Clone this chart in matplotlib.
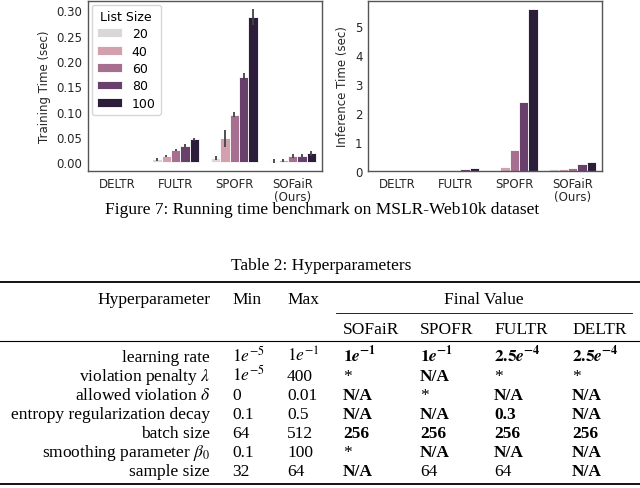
import matplotlib
matplotlib.use("Agg")
import matplotlib.pyplot as plt
from matplotlib.lines import Line2D
import numpy as np

# ---- chart data ----
categories = ["DELTR", "FULTR", "SPOFR", "SOFaiR\n(Ours)"]
list_sizes = [20, 40, 60, 80, 100]

# training time (sec), one row per list size, columns follow categories
train_time = [
    [0.0004, 0.006, 0.008, 0.002],
    [0.0005, 0.013, 0.047, 0.004],
    [0.0006, 0.024, 0.094, 0.013],
    [0.0007, 0.033, 0.169, 0.013],
    [0.0008, 0.045, 0.287, 0.018],
]
train_err = [
    [0.0001, 0.003, 0.004, 0.004],
    [0.0001, 0.002, 0.017, 0.003],
    [0.0001, 0.002, 0.005, 0.004],
    [0.0001, 0.003, 0.007, 0.003],
    [0.0001, 0.003, 0.016, 0.005],
]

# inference time (sec)
infer_time = [
    [0.002, 0.004, 0.010, 0.06],
    [0.002, 0.006, 0.15, 0.07],
    [0.003, 0.010, 0.73, 0.09],
    [0.003, 0.07, 2.39, 0.23],
    [0.004, 0.09, 5.58, 0.30],
]

# ---- table data ----
row_names = ["learning rate", r"violation penalty $\lambda$", r"allowed violation $\delta$",
             "entropy regularization decay", "batch size", r"smoothing parameter $\beta_0$",
             "sample size"]
min_vals = ["1e-5", "1e-5", "0", "0.1", "64", "0.1", "32"]
max_vals = ["1e-1", "400", "0.01", "0.5", "512", "100", "64"]
sofair_vals = ["1e-1", "*", "N/A", "N/A", "256", "*", "N/A"]
spofr_vals = ["1e-1", "N/A", "*", "N/A", "256", "N/A", "64"]
fultr_vals = ["2.5e-4", "*", "N/A", "0.3", "256", "N/A", "64"]
deltr_vals = ["2.5e-4", "*", "N/A", "N/A", "256", "N/A", "N/A"]
final_names = ["SOFaiR", "SPOFR", "FULTR", "DELTR"]
plain_cells = [("sample size", "SPOFR"), ("sample size", "FULTR")]

colors = ["#dcd7d7", "#d3a1ad", "#a66e8f", "#693f6b", "#2c1e3b"]

plt.rcParams["mathtext.fontset"] = "stix"
W, H = 640, 489
fig = plt.figure(figsize=(6.4, 4.89), dpi=100)


def fx(px):
    return px / W


def fy(py):
    return 1 - py / H


def bar_panel(ax, values, errs, ylabel, yticks, fmt):
    x = np.arange(len(categories))
    width = 0.16
    for i, size in enumerate(list_sizes):
        pos = x + (i - 2) * width
        ax.bar(pos, values[i], width, color=colors[i], edgecolor="white",
               linewidth=0.6, label=str(size))
        if errs is not None:
            ax.errorbar(pos, values[i], yerr=errs[i], fmt="none",
                        ecolor="#424242", elinewidth=1.3, capsize=0)
    ax.set_xlim(-0.5, len(categories) - 0.5)
    ax.set_xticks(x)
    ax.set_xticklabels(categories, fontsize=8.5, color="#262626", linespacing=1.0)
    ax.set_yticks(yticks)
    ax.set_yticklabels([fmt.format(t) for t in yticks], fontsize=8.5, color="#262626")
    ax.set_ylabel(ylabel, fontsize=8.5, color="#262626")
    ax.tick_params(length=0, pad=4)
    for sp in ax.spines.values():
        sp.set_color("#555555")
        sp.set_linewidth(1.0)


ax1 = fig.add_axes([fx(88), fy(172), fx(234), 170 / H])
bar_panel(ax1, train_time, train_err, "Training Time (sec)",
          [0, 0.05, 0.10, 0.15, 0.20, 0.25, 0.30], "{:.2f}")
leg = ax1.legend(title="List Size", loc="upper left", fontsize=9, title_fontsize=9,
                 frameon=True, fancybox=True, borderaxespad=0.3, handlelength=2.0,
                 labelspacing=0.35)
leg.get_frame().set_edgecolor("#cccccc")

ax2 = fig.add_axes([fx(368), fy(172), fx(234), 170 / H])
bar_panel(ax2, infer_time, None, "Inference Time (sec)", [0, 1, 2, 3, 4, 5], "{:d}")

serif = "Liberation Serif"
fs = 12.5

fig.text(fx(322), fy(210), "Figure 7: Running time benchmark on MSLR-Web10k dataset",
         ha="center", va="center", family=serif, fontsize=fs)
fig.text(fx(321), fy(266), "Table 2: Hyperparameters", ha="center", va="center",
         family=serif, fontsize=fs)


def hline(x0, x1, y, lw):
    fig.add_artist(Line2D([fx(x0), fx(x1)], [fy(y), fy(y)], color="black", linewidth=lw))


def sci(text, bold=False):
    if "e" not in text:
        return text
    base, exp = text.split("e")
    if bold:
        return r"$\mathbf{%s}\mathbfit{e}^{\mathbf{%s}}$" % (base, exp)
    return r"$%s e^{%s}$" % (base, exp)


hline(0, 640, 283, 1.3)
hline(336, 632, 314, 0.6)
hline(0, 640, 342, 0.8)
hline(0, 640, 485, 1.3)

col_x = [343, 420, 494, 572]
fig.text(fx(210), fy(304), "Hyperparameter", ha="right", va="baseline", family=serif, fontsize=fs)
fig.text(fx(232), fy(304), "Min", ha="left", va="baseline", family=serif, fontsize=fs)
fig.text(fx(287), fy(304), "Max", ha="left", va="baseline", family=serif, fontsize=fs)
fig.text(fx(484), fy(304), "Final Value", ha="center", va="baseline", family=serif, fontsize=fs)
for name, cx in zip(final_names, col_x):
    fig.text(fx(cx), fy(334), name, ha="left", va="baseline", family=serif, fontsize=fs)

final_cols = [sofair_vals, spofr_vals, fultr_vals, deltr_vals]
for r, name in enumerate(row_names):
    yb = fy(362 + 19 * r)
    fig.text(fx(210), yb, name, ha="right", va="baseline", family=serif, fontsize=fs)
    fig.text(fx(232), yb, sci(min_vals[r]), ha="left", va="baseline", family=serif, fontsize=fs)
    fig.text(fx(287), yb, sci(max_vals[r]), ha="left", va="baseline", family=serif, fontsize=fs)
    for c, (vals, cx) in enumerate(zip(final_cols, col_x)):
        v = vals[r]
        bold = v != "*" and (name, final_names[c]) not in plain_cells
        fig.text(fx(cx), yb, sci(v, bold), ha="left", va="baseline", family=serif,
                 fontsize=fs, fontweight="bold" if bold else "normal")

fig.savefig("out.png", dpi=100)
